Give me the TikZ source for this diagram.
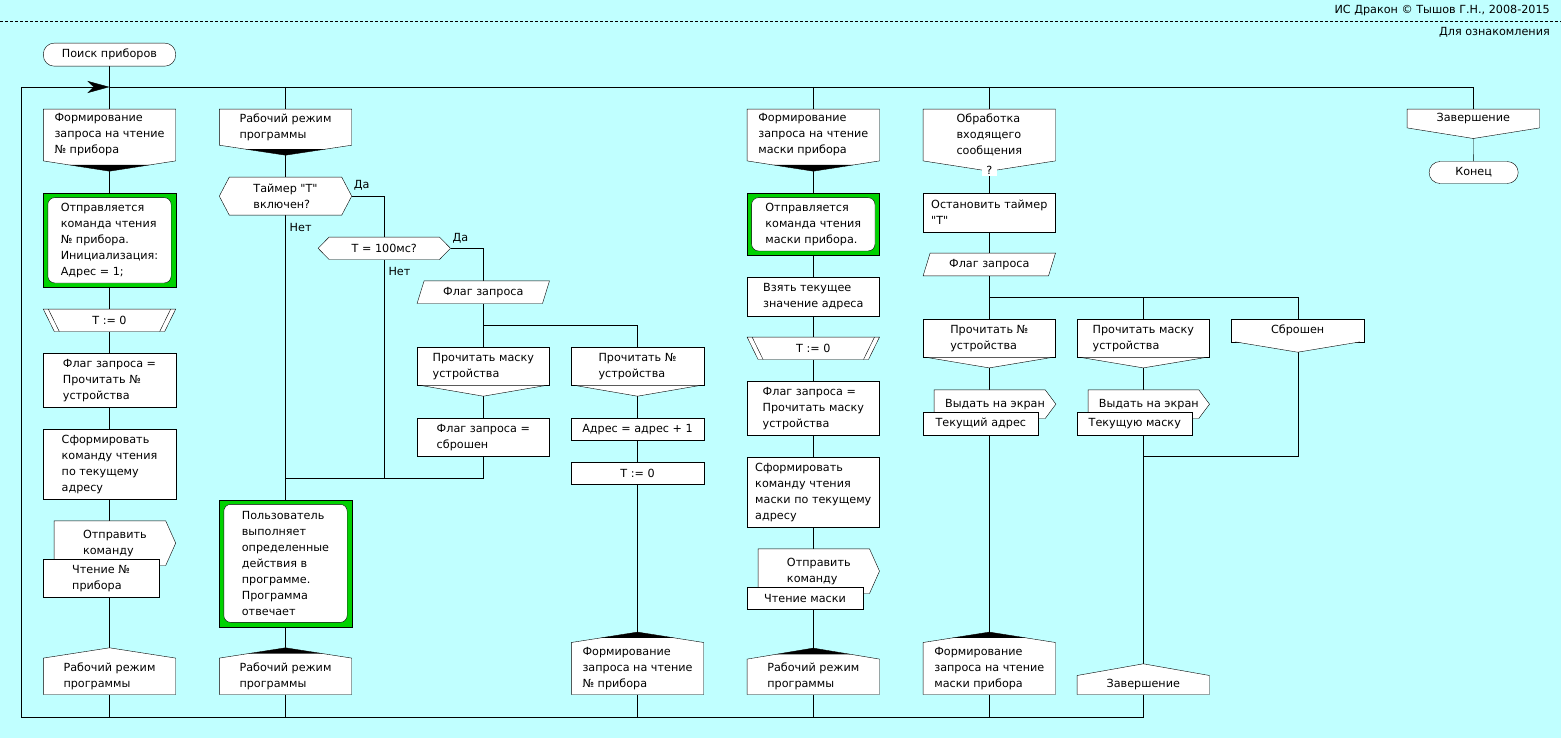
\documentclass[tikz,border=0pt]{standalone}
\usepackage{fontspec}
\setmainfont{DejaVu Sans}[Ligatures=TeXOff]
\usetikzlibrary{arrows.meta}
\definecolor{bgc}{RGB}{192,255,255}
\definecolor{dgreen}{RGB}{0,210,0}
\pgfdeclarelayer{bgl}\pgfdeclarelayer{lines}\pgfdeclarelayer{shapes}
\pgfsetlayers{bgl,lines,shapes,main}
\newcommand\tf{\fontsize{11.2}{16}\selectfont}
% node: name, left, right, top, bottom, text
\newcommand\mk[6]{\node[n,minimum width={(#3-#2)*1pt},minimum height={(#5-#4)*1pt}] (#1) at ({(#2+#3)/2},{(#4+#5)/2}) {#6};}
\newcommand\shRect[1]{\draw[shp] (#1.south west) rectangle (#1.north east);}
\newcommand\shTerm[1]{\draw[shp,rounded corners=11pt] (#1.south west) rectangle (#1.north east);}
\newcommand\shBranch[2]{\draw[shp] (#1.north west) -- (#1.north east) -- (#1.south east) -- ([yshift=-#2pt]#1.south) -- (#1.south west) -- cycle;}
\newcommand\wedgeDown[2]{\fill ([xshift=-40pt,yshift=-0.394*#2pt]#1.south) -- ([yshift=-#2pt]#1.south) -- ([xshift=40pt,yshift=-0.394*#2pt]#1.south) -- cycle;}
\newcommand\shAddr[2]{\draw[shp] (#1.south west) -- (#1.north west) -- ([yshift=#2pt]#1.north) -- (#1.north east) -- (#1.south east) -- cycle;}
\newcommand\wedgeUp[2]{\fill ([xshift=-37pt,yshift=0.44*#2pt]#1.north) -- ([yshift=#2pt]#1.north) -- ([xshift=37pt,yshift=0.44*#2pt]#1.north) -- cycle;}
\newcommand\shCase[2]{\draw[shp] (#1.south west) rectangle (#1.north east);
  \draw[shp] ([xshift=4pt]#1.south west) -- ([yshift=-#2pt]#1.south) -- ([xshift=-4pt]#1.south east);}
\newcommand\shDec[2]{\draw[shp] (#1.west) -- ([xshift=#2pt]#1.north west) -- ([xshift=-#2pt]#1.north east) -- (#1.east) -- ([xshift=-#2pt]#1.south east) -- ([xshift=#2pt]#1.south west) -- cycle;}
\newcommand\shPara[2]{\draw[shp] ([xshift=#2pt]#1.north west) -- (#1.north east) -- ([xshift=-#2pt]#1.south east) -- (#1.south west) -- cycle;}
\newcommand\shLoop[1]{\draw[shp] (#1.north west) -- (#1.north east) -- ([xshift=-11pt]#1.south east) -- ([xshift=11pt]#1.south west) -- cycle;
  \draw ([xshift=5pt]#1.north west) -- ([xshift=16pt]#1.south west);
  \draw ([xshift=-5pt]#1.north east) -- ([xshift=-16pt]#1.south east);}
\newcommand\shOut[2]{\draw[shp] (#1.north west) -- ([xshift=-#2pt]#1.north east) -- (#1.east) -- ([xshift=-#2pt]#1.south east) -- (#1.south west) -- cycle;}
\newcommand\shGreen[1]{\draw[fill=dgreen] (#1.south west) rectangle (#1.north east);
  \draw[fill=white,rounded corners=7pt] ([shift={(4.5pt,4.5pt)}]#1.south west) rectangle ([shift={(-4.5pt,-4.5pt)}]#1.north east);}
\begin{document}
\begin{tikzpicture}[x=1pt,y=-1pt,line width=1pt,
  n/.style={inner sep=0pt,align=left,font=\tf},
  shp/.style={draw=black,fill=white},
  lbl/.style={inner sep=0pt,font=\tf,anchor=west}]
\useasboundingbox (0,0) rectangle (1561,738);
\begin{pgfonlayer}{bgl}
\fill[bgc] (0,0) rectangle (1561,738);
\end{pgfonlayer}

% header
\node[lbl,anchor=east] (hdr1) at (1550,11) {ИС Дракон © Тышов Г.Н., 2008-2015};
\node[lbl,anchor=east] (hdr2) at (1550,32.5) {Для ознакомления};
\draw[dash pattern=on 3pt off 2pt] (0,21) -- (1561,21);

% nodes
\mk{start}{43.5}{175.5}{43.3}{66}{Поиск приборов}
\mk{c1head}{43.5}{175.5}{109.3}{160.7}{Формирование\\запроса на чтение\\№ прибора}
\mk{c1green}{43.5}{175.5}{193.3}{287.3}{Отправляется\\команда чтения\\№ прибора.\\Инициализация:\\Адрес = 1;}
\mk{c1t0}{43.5}{175.5}{309.3}{331.3}{Т := 0}
\mk{c1flag}{43.5}{175.5}{353.3}{407.3}{Флаг запроса =\\Прочитать №\\устройства}
\mk{c1form}{43.5}{175.5}{429.3}{499.3}{Сформировать\\команду чтения\\по текущему\\адресу}
\mk{c1out}{54.3}{175.5}{521}{565.3}{Отправить\\команду}
\mk{c1outB}{43.5}{158.7}{559.3}{597.3}{Чтение №\\прибора}
\mk{c1addr}{43.5}{175.5}{658.3}{694.3}{Рабочий режим\\программы}

\mk{c2head}{219.5}{351.5}{109.3}{145}{Рабочий режим\\программы}
\mk{c2dec}{219.5}{351.5}{177.3}{215}{Таймер "Т"\\включен?}
\mk{c2green}{219.5}{351.5}{500}{626.7}{Пользователь\\выполняет\\определенные\\действия в\\программе.\\Программа\\отвечает}
\mk{c2addr}{219.5}{351.5}{658.3}{694.3}{Рабочий режим\\программы}

\mk{c3dec}{318.3}{450.3}{237.3}{259.3}{Т = 100мс?}

\mk{c4flag}{417.3}{549.3}{281}{303.3}{Флаг запроса}
\mk{c4case}{417.3}{549.3}{347.3}{385.3}{Прочитать маску\\устройства}
\mk{c4set}{417.3}{549.3}{418.3}{456}{Флаг запроса =\\сброшен}

\mk{c5case}{571.5}{703.5}{347.3}{385.3}{Прочитать №\\устройства}
\mk{c5add}{571.5}{703.5}{418.3}{440}{Адрес = адрес + 1}
\mk{c5t0}{571.5}{703.5}{462.7}{484.3}{Т := 0}
\mk{c5addr}{571.5}{703.5}{642.7}{694.3}{Формирование\\запроса на чтение\\№ прибора}

\mk{c6head}{747.3}{879.3}{109.3}{160.7}{Формирование\\запроса на чтение\\маски прибора}
\mk{c6green}{747.3}{879.3}{193.3}{255.3}{Отправляется\\команда чтения\\маски прибора.}
\mk{c6take}{747.3}{879.3}{277.3}{315.7}{Взять текущее\\значение адреса}
\mk{c6t0}{747.3}{879.3}{337.3}{359.3}{Т := 0}
\mk{c6flag}{747.3}{879.3}{381.3}{435.3}{Флаг запроса =\\Прочитать маску\\устройства}
\mk{c6form}{747.3}{879.3}{457.3}{527.3}{Сформировать\\команду чтения\\маски по текущему\\адресу}
\mk{c6out}{758.3}{879.3}{549}{593.3}{Отправить\\команду}
\mk{c6outB}{747.3}{862.7}{587.3}{609.3}{Чтение маски}
\mk{c6addr}{747.3}{879.3}{659.3}{694.3}{Рабочий режим\\программы}

\mk{c7head}{923.3}{1055.3}{109.3}{160.7}{Обработка\\входящего\\сообщения}
\node[n,fill=white,minimum width=15pt,minimum height=12pt] (c7q) at (989.3,170) {?};
\mk{c7stop}{923.3}{1055.3}{193.3}{231.7}{Остановить таймер\\"Т"}
\mk{c7flag}{923.3}{1055.3}{253.3}{275.7}{Флаг запроса}
\mk{c7case}{923.3}{1055.3}{319.3}{357.3}{Прочитать №\\устройства}
\mk{c7out}{934.3}{1055.7}{390}{418.3}{Выдать на экран}
\mk{c7outB}{923.3}{1038.3}{412.7}{435}{Текущий адрес}
\mk{c7addr}{923.3}{1055.3}{642.7}{694.3}{Формирование\\запроса на чтение\\маски прибора}

\mk{c8case}{1077.3}{1209.3}{319.3}{357.3}{Прочитать маску\\устройства}
\mk{c8out}{1088.3}{1209.3}{390}{418.3}{Выдать на экран}
\mk{c8outB}{1077.3}{1192.3}{412.7}{435}{Текущую маску}
\mk{c8addr}{1077.3}{1209.3}{675.7}{694.3}{Завершение}

\mk{c9case}{1231.7}{1363.7}{319.3}{341.7}{Сброшен}

\mk{c10head}{1407.3}{1539.3}{109.3}{127.7}{Завершение}
\mk{c10end}{1429.3}{1518}{161.7}{183.3}{Конец}

% labels
\node[lbl] (lda1) at ([xshift=2pt,yshift=11pt]c2dec.east) {Да};
\node[lbl] (lnet1) at ([xshift=4pt,yshift=-12pt]c2dec.south) {Нет};
\node[lbl] (lda2) at ([xshift=2pt,yshift=10pt]c3dec.east) {Да};
\node[lbl] (lnet2) at ([xshift=4pt,yshift=-12pt]c3dec.south) {Нет};

% shapes
\begin{pgfonlayer}{shapes}
\shTerm{start}
\shBranch{c1head}{10.3}\wedgeDown{c1head}{10.3}
\shGreen{c1green}
\shLoop{c1t0}
\shRect{c1flag}
\shRect{c1form}
\shOut{c1out}{10}\shRect{c1outB}
\shAddr{c1addr}{10.3}

\shBranch{c2head}{10}\wedgeDown{c2head}{10}
\shDec{c2dec}{10}
\shGreen{c2green}
\shAddr{c2addr}{10.3}\wedgeUp{c2addr}{10.3}

\shDec{c3dec}{11}

\shPara{c4flag}{7}
\shCase{c4case}{10.7}
\shRect{c4set}

\shCase{c5case}{10.7}
\shRect{c5add}
\shRect{c5t0}
\shAddr{c5addr}{10.4}\wedgeUp{c5addr}{10.4}

\shBranch{c6head}{10.3}\wedgeDown{c6head}{10.3}
\shGreen{c6green}
\shRect{c6take}
\shLoop{c6t0}
\shRect{c6flag}
\shRect{c6form}
\shOut{c6out}{10}\shRect{c6outB}
\shAddr{c6addr}{11}\wedgeUp{c6addr}{11}

\shBranch{c7head}{10.3}
\shRect{c7stop}
\shPara{c7flag}{7}
\shCase{c7case}{10.4}
\shOut{c7out}{10.7}\shRect{c7outB}
\shAddr{c7addr}{10.4}\wedgeUp{c7addr}{10.4}

\shCase{c8case}{10.4}
\shOut{c8out}{10.7}\shRect{c8outB}
\shAddr{c8addr}{11.7}

\shCase{c9case}{10.3}

\shBranch{c10head}{10.6}
\shTerm{c10end}
\end{pgfonlayer}

% connectors
\begin{pgfonlayer}{lines}
\coordinate (tl) at (21,87);
\coordinate (bl) at (21,716.7);
\coordinate (m1) at (285.5,478.3);
\coordinate (f1) at (483.3,325);
\coordinate (f2) at (989.3,297.3);
\coordinate (m2) at (1143.3,456);
\draw (start) -- (c1head);
\draw[-{Stealth[length=22pt,width=12pt,inset=6pt]}] (bl) -- (tl) -- (tl -| start);
\draw (tl -| start) -- (tl -| c10head) -- (c10head);
\draw (tl -| c2head) -- (c2head);
\draw (tl -| c6head) -- (c6head);
\draw (tl -| c7head) -- (c7head);
\draw (c8addr) -- (c8addr |- bl) -- (bl);
\draw (c1addr) -- (c1addr |- bl);
\draw (c2addr) -- (c2addr |- bl);
\draw (c5addr) -- (c5addr |- bl);
\draw (c6addr) -- (c6addr |- bl);
\draw (c7addr) -- (c7addr |- bl);

\draw (c1head) -- (c1green) -- (c1t0) -- (c1flag) -- (c1form) -- (c1addr);
\draw (c2head) -- (c2dec) -- (c2green) -- (c2addr);
\draw (c2dec.east) -| (c3dec.north);
\draw (c3dec.east) -| (c4flag.north);
\draw (c3dec) -- (c3dec |- m1);
\draw (c4set) |- (m1);
\draw (c4flag) -- (c4case) -- (c4set);
\draw (f1) -| (c5case);
\draw (c5case) -- (c5add) -- (c5t0) -- (c5addr);
\draw (c6head) -- (c6green) -- (c6take) -- (c6t0) -- (c6flag) -- (c6form) -- (c6addr);
\draw (c7head) -- (c7stop) -- (c7flag) -- (c7case) -- (c7addr);
\draw (f2) -| (c9case);
\draw (c8case |- f2) -- (c8case) -- (c8addr);
\draw (c9case) |- (m2);
\draw (c10head) -- (c10end);
\end{pgfonlayer}
\end{tikzpicture}
\end{document}
